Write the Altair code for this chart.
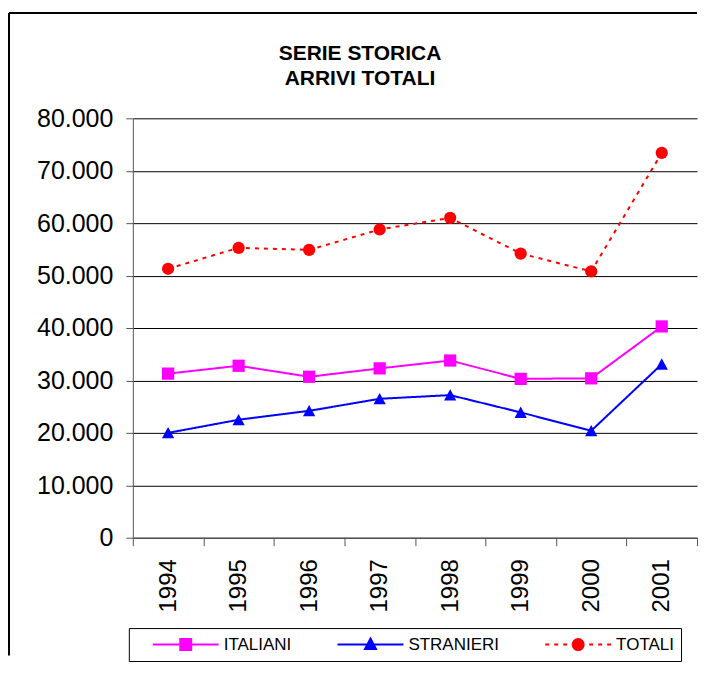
import altair as alt
import pandas as pd

# ---------------- data ----------------
anni = ["1994", "1995", "1996", "1997", "1998", "1999", "2000", "2001"]
italiani = [31300, 32800, 30700, 32300, 33800, 30300, 30400, 40300]
stranieri = [20000, 22500, 24200, 26500, 27200, 23900, 20400, 33100]
totali = [51300, 55300, 54900, 58800, 61000, 54200, 50800, 73400]
serie = ["ITALIANI", "STRANIERI", "TOTALI"]
y_ticks = [0, 10000, 20000, 30000, 40000, 50000, 60000, 70000, 80000]
titolo = ["SERIE STORICA", "ARRIVI TOTALI"]

rows = []
for nome, valori in zip(serie, [italiani, stranieri, totali]):
    for a, v in zip(anni, valori):
        rows.append({"anno": a, "serie": nome, "arrivi": v})
df = pd.DataFrame(rows)

# ---------------- styling ----------------
W, H = 565, 420
FONT = "Liberation Sans"
colori = ["#FF00FF", "#0000FF", "#FF0000"]
dashes = [[1, 0], [1, 0], [4, 5]]

# chart marker shapes (unit space, scaled by sqrt(size)/2)
tri = "M0,-0.95L1,0.9L-1,0.9Z"

# legend symbols: line + marker drawn as one custom path (pixel units / U)
U = 41.0
def f(v):
    return f"{v / U:.4f}"
def seg(x1, x2):
    return f"M{f(x1)},0H{f(x2)}"
cx = 8.0
leg_ita = seg(-25, 41) + f"M{f(cx-5.5)},{f(-5.5)}H{f(cx+5.5)}V{f(5.5)}H{f(cx-5.5)}Z"
leg_str = seg(-25, 41) + f"M{f(cx)},{f(-6)}L{f(cx+5.5)},{f(4.5)}L{f(cx-5.5)},{f(4.5)}Z"
r = 5.5
circle = (f"M{f(cx+r)},0A{f(r)},{f(r)},0,1,1,{f(cx-r)},0"
          f"A{f(r)},{f(r)},0,1,1,{f(cx+r)},0Z")
leg_tot = (seg(-25, -21) + seg(-16, -12) + seg(-7, -3) + circle
           + seg(19, 23) + seg(28, 32) + seg(37, 41))
legend_paths = [leg_ita, leg_str, leg_tot]

x_enc = alt.X(
    "anno:O",
    scale=alt.Scale(type="band", domain=anni, paddingInner=0, paddingOuter=0),
    axis=alt.Axis(title=None, labelAngle=270, labelFontSize=24, tickBand="extent",
                  tickSize=8, labelPadding=13, grid=False),
)
y_enc = alt.Y(
    "arrivi:Q",
    scale=alt.Scale(domain=[0, 80000], nice=False),
    axis=alt.Axis(title=None, values=y_ticks,
                  labelExpr="replace(format(datum.value, ','), ',', '.')",
                  labelFontSize=25, tickSize=7, labelPadding=13,
                  grid=True, gridColor="black", gridWidth=1),
)

def cscale():
    return alt.Scale(domain=serie, range=colori)

base = alt.Chart(df)

lines = base.mark_line(strokeWidth=2).encode(
    x=x_enc, y=y_enc,
    color=alt.Color("serie:N", scale=cscale(), legend=None),
    strokeDash=alt.StrokeDash("serie:N", scale=alt.Scale(domain=serie, range=dashes), legend=None),
)

points = base.mark_point(filled=True, size=150, opacity=1).encode(
    x=x_enc, y=y_enc,
    color=alt.Color("serie:N", scale=cscale(), legend=None),
    shape=alt.Shape("serie:N", scale=alt.Scale(domain=serie, range=["square", tri, "circle"]), legend=None),
)

leg = dict(title=None, orient="none", legendX=-4, legendY=510.5, direction="horizontal",
           strokeColor="black", padding=7, clipHeight=19, columnPadding=29, labelOffset=4,
           symbolSize=6724, symbolStrokeWidth=2, labelFont=FONT, labelFontSize=17,
           labelColor="black", symbolOpacity=1)

legend_layer = base.mark_point(filled=True, size=6724, strokeWidth=2).encode(
    x=x_enc, y=y_enc,
    color=alt.Color("serie:N", scale=cscale(), legend=alt.Legend(**leg)),
    stroke=alt.Stroke("serie:N", scale=cscale(), legend=alt.Legend(**leg)),
    shape=alt.Shape("serie:N", scale=alt.Scale(domain=serie, range=legend_paths), legend=alt.Legend(**leg)),
).transform_filter("false")

one = alt.Data(values=[{"k": 1}])
frame_left = alt.Chart(one).mark_rule(color="black", strokeWidth=2).encode(
    x=alt.value(-124), y=alt.value(-105.5), y2=alt.value(538))
frame_top = alt.Chart(one).mark_rule(color="black", strokeWidth=2).encode(
    x=alt.value(-124), x2=alt.value(565), y=alt.value(-105.5))
title_mark = alt.Chart(one).mark_text(
    text=titolo, font=FONT, fontSize=21, fontWeight="bold", lineHeight=24.7,
    align="center", baseline="alphabetic", color="black",
).encode(x=alt.value(227.5), y=alt.value(-58.2))

chart = (
    alt.layer(frame_left, frame_top, title_mark, lines, points, legend_layer)
    .resolve_scale(color="independent", shape="independent", stroke="independent")
    .properties(width=W, height=H,
                padding={"left": 0, "top": 3, "right": 0, "bottom": 0},
                background="white")
    .configure_view(stroke="transparent")
    .configure_axis(labelFont=FONT, labelColor="black", domainColor="#555555",
                    tickColor="#555555", domainWidth=1)
)

chart.save("out.html", embed_options={"renderer": "svg", "actions": False})
